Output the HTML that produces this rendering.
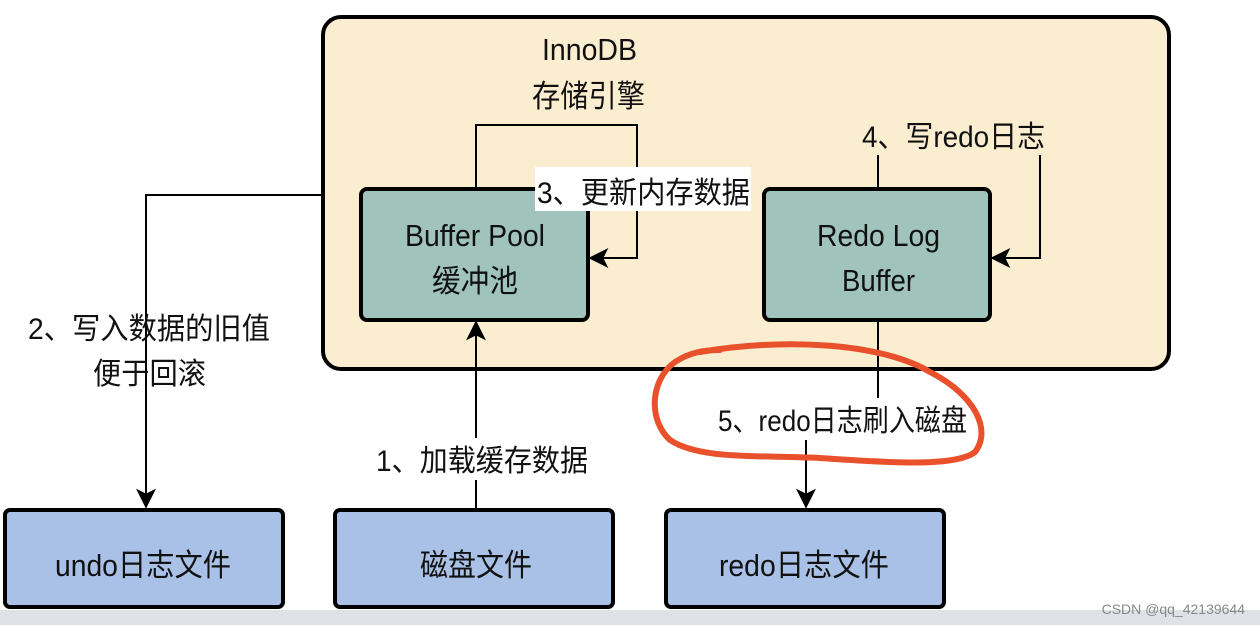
<!DOCTYPE html>
<html><head><meta charset="utf-8"><style>
html,body{margin:0;padding:0;background:#fff;}
svg{display:block;}
text{font-family:"Liberation Sans","Noto Sans CJK SC",sans-serif;fill:#111;}
</style></head><body>
<svg width="1260" height="625" viewBox="0 0 1260 625" xmlns="http://www.w3.org/2000/svg">
<defs>
<marker id="ar2" viewBox="0 0 12 12" refX="11" refY="6" markerWidth="20" markerHeight="20" orient="auto" markerUnits="userSpaceOnUse">
<path d="M0,0 L12,6 L0,12 L3,6 z" fill="#000"/>
</marker>
</defs>
<rect x="0" y="0" width="1260" height="625" fill="#fff"/>
<rect x="0" y="610" width="1260" height="15" fill="#dfe1e7"/>
<rect x="323" y="17" width="846" height="352" rx="18" fill="#fbeed0" stroke="#000" stroke-width="4"/>
<text x="542" y="60" font-size="31" textLength="95" lengthAdjust="spacingAndGlyphs">InnoDB</text>
<text x="532" y="107" font-size="31" textLength="113" lengthAdjust="spacingAndGlyphs">存储引擎</text>
<g stroke="#000" stroke-width="2" fill="none">
<polyline points="322,195 146,195 146,507" marker-end="url(#ar2)"/>
<polyline points="476,188 476,125 637,125 637,258 590,258" marker-end="url(#ar2)"/>
<polyline points="878,188 878,125 1040,125 1040,258 992,258" marker-end="url(#ar2)"/>
<line x1="476" y1="509" x2="476" y2="322" marker-end="url(#ar2)"/>
<line x1="878" y1="320" x2="878" y2="398"/>
<line x1="806" y1="440" x2="806" y2="507" marker-end="url(#ar2)"/>
</g>
<rect x="361" y="189" width="227" height="131" rx="6" fill="#a0c4bc" stroke="#000" stroke-width="4"/>
<text x="405" y="246" font-size="31" textLength="140" lengthAdjust="spacingAndGlyphs">Buffer Pool</text>
<text x="432" y="292" font-size="31" textLength="86" lengthAdjust="spacingAndGlyphs">缓冲池</text>
<rect x="764" y="189" width="226" height="131" rx="6" fill="#a0c4bc" stroke="#000" stroke-width="4"/>
<text x="817" y="246" font-size="31" textLength="123" lengthAdjust="spacingAndGlyphs">Redo Log</text>
<text x="842" y="291" font-size="31" textLength="73" lengthAdjust="spacingAndGlyphs">Buffer</text>
<rect x="535" y="167" width="216" height="44" fill="#fff"/>
<text x="537" y="203" font-size="30" textLength="213" lengthAdjust="spacingAndGlyphs">3、更新内存数据</text>
<rect x="860" y="115" width="188" height="40" fill="#fbeed0"/>
<text x="862" y="147" font-size="30" textLength="183" lengthAdjust="spacingAndGlyphs">4、写redo日志</text>
<text x="28" y="339" font-size="30" textLength="242" lengthAdjust="spacingAndGlyphs">2、写入数据的旧值</text>
<text x="93" y="384" font-size="30" textLength="113" lengthAdjust="spacingAndGlyphs">便于回滚</text>
<rect x="372" y="438" width="220" height="42" fill="#fff"/>
<text x="376" y="471" font-size="30" textLength="212" lengthAdjust="spacingAndGlyphs">1、加载缓存数据</text>
<text x="718" y="431" font-size="30" textLength="249" lengthAdjust="spacingAndGlyphs">5、redo日志刷入磁盘</text>
<rect x="5" y="510" width="278" height="97" rx="5" fill="#a9c1e7" stroke="#000" stroke-width="4"/>
<text x="55" y="576" font-size="31" textLength="176" lengthAdjust="spacingAndGlyphs">undo日志文件</text>
<rect x="335" y="510" width="278" height="97" rx="5" fill="#a9c1e7" stroke="#000" stroke-width="4"/>
<text x="420" y="576" font-size="31" textLength="112" lengthAdjust="spacingAndGlyphs">磁盘文件</text>
<rect x="666" y="510" width="278" height="97" rx="5" fill="#a9c1e7" stroke="#000" stroke-width="4"/>
<text x="719" y="576" font-size="31" textLength="170" lengthAdjust="spacingAndGlyphs">redo日志文件</text>
<path d="M700,352 C780,338 880,342 930,372 C975,395 992,430 975,452 C955,468 880,462 820,458 C760,455 700,460 670,440 C648,420 650,380 675,362 C690,352 705,350 720,350" fill="none" stroke="#e8512b" stroke-width="6" stroke-linecap="round"/>
<text x="1245" y="614" font-size="14" text-anchor="end" style="fill:#888">CSDN @qq_42139644</text>
</svg>
</body></html>
